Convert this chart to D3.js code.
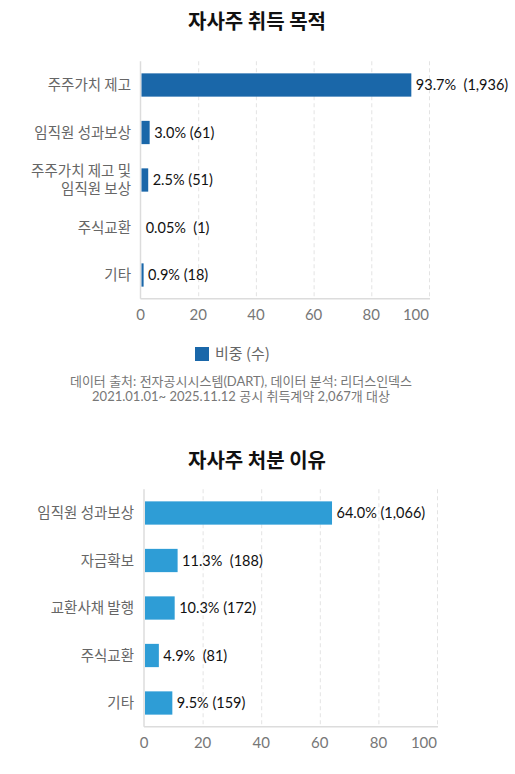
<!DOCTYPE html>
<html><head><meta charset="utf-8">
<script src="https://cdn.jsdelivr.net/npm/d3@7"></script>
<style>
body{margin:0;background:#fff;}
text{font-family:Lato,"Noto Sans CJK KR",sans-serif;}
</style></head><body>
<svg id="c" width="515" height="774"></svg>
<script>
const title1 = "자사주 취득 목적";
const categories1 = [["주주가치 제고"],["임직원 성과보상"],["주주가치 제고 및","임직원 보상"],["주식교환"],["기타"]];
const pct1 = [93.7, 3.0, 2.5, 0.05, 0.9];
const pctLabels1 = ["93.7%","3.0%","2.5%","0.05%","0.9%"];
const counts1 = ["1,936","61","51","1","18"];
const gaps1 = ["  "," "," ","  "," "];

const title2 = "자사주 처분 이유";
const categories2 = [["임직원 성과보상"],["자금확보"],["교환사채 발행"],["주식교환"],["기타"]];
const pct2 = [64.0, 11.3, 10.3, 4.9, 9.5];
const pctLabels2 = ["64.0%","11.3%","10.3%","4.9%","9.5%"];
const counts2 = ["1,066","188","172","81","159"];
const gaps2 = [" ","  "," ","  "," "];

const ticks = [0,20,40,60,80,100];
const legendLabel = "비중 (수)";
const notes = ["데이터 출처: 전자공시시스템(DART), 데이터 분석: 리더스인덱스","2021.01.01~ 2025.11.12 공시 취득계약 2,067개 대상"];

const svg = d3.select("#c");
const KR = "'Noto Sans CJK KR',sans-serif";

function chart(cfg){
  const g = svg.append("g");
  g.append("text").attr("x",257).attr("y",cfg.titleY).attr("text-anchor","middle")
    .style("font-family",KR).style("font-weight","700").style("font-size","20px").attr("fill","#111").text(cfg.title);
  const x = d3.scaleLinear().domain([0,100]).range([cfg.x0,cfg.x1]);
  const y = d3.scaleBand().domain(d3.range(cfg.cats.length)).range([cfg.top,cfg.bottom]).paddingInner(0.51).paddingOuter(0.255);
  g.selectAll(".grid").data(ticks.slice(1)).join("line")
    .attr("x1",d=>x(d)+0.5).attr("x2",d=>x(d)+0.5).attr("y1",cfg.top).attr("y2",cfg.bottom)
    .attr("stroke","#e3e3e3").attr("stroke-dasharray","4,3");
  g.append("line").attr("x1",x(0)).attr("x2",x(0)).attr("y1",cfg.top).attr("y2",cfg.bottom).attr("stroke","#dcdcdc").attr("stroke-width",1.5);
  g.append("line").attr("x1",x(0)).attr("x2",x(100)+1).attr("y1",cfg.bottom).attr("y2",cfg.bottom).attr("stroke","#dcdcdc").attr("stroke-width",1.5);
  g.selectAll(".bar").data(cfg.vals).join("rect")
    .attr("x",x(0)+1).attr("y",(d,i)=>y(i)).attr("width",d=>Math.max(0,x(d)-x(0)-0.5)).attr("height",y.bandwidth())
    .attr("fill",cfg.color);
  g.selectAll(".val").data(cfg.vals).join("text")
    .attr("x",d=>x(d)+5).attr("y",(d,i)=>y(i)+y.bandwidth()/2).attr("dy","0.36em")
    .attr("xml:space","preserve").style("white-space","pre")
    .style("font-size","14.5px").attr("fill","#111")
    .text((d,i)=>cfg.pl[i]+cfg.gp[i]+"("+cfg.cn[i]+")");
  cfg.cats.forEach((lines,i)=>{
    const cy = y(i)+y.bandwidth()/2;
    const t = g.append("text").attr("text-anchor","end").style("font-family",KR).style("font-size","14.5px").attr("fill","#666");
    lines.forEach((l,j)=>{
      t.append("tspan").attr("x",cfg.labelX).attr("y",cy+(j-(lines.length-1)/2)*18).attr("dy","0.36em").text(l);
    });
  });
  g.selectAll(".tk").data(ticks).join("text")
    .attr("x",d=>x(d))
    .attr("text-anchor",(d,i)=> i===ticks.length-1 ? "end" : "middle")
    .attr("y",cfg.bottom+16).attr("dy","0.36em")
    .style("font-size","15px").attr("fill","#777").text(d=>d);
  return g;
}

chart({title:title1,titleY:29,cats:categories1,vals:pct1,pl:pctLabels1,cn:counts1,gp:gaps1,x0:140.5,x1:429,top:61.25,bottom:298.75,color:"#1a67a9",labelX:131});
chart({title:title2,titleY:468,cats:categories2,vals:pct2,pl:pctLabels2,cn:counts2,gp:gaps2,x0:144,x1:437,top:489.25,bottom:726.75,color:"#2e9dd6",labelX:134});

svg.append("rect").attr("x",195).attr("y",347).attr("width",14).attr("height",14).attr("fill","#1a67a9");
svg.append("text").attr("x",215).attr("y",354).attr("dy","0.36em").style("font-family",KR).style("font-size","15px").attr("fill","#666").text(legendLabel);
notes.forEach((n,i)=>{
  svg.append("text").attr("x",241).attr("y",381+i*15).attr("dy","0.36em").attr("text-anchor","middle")
    .style("font-size","13px").attr("fill","#777").text(n);
});
</script></body></html>
